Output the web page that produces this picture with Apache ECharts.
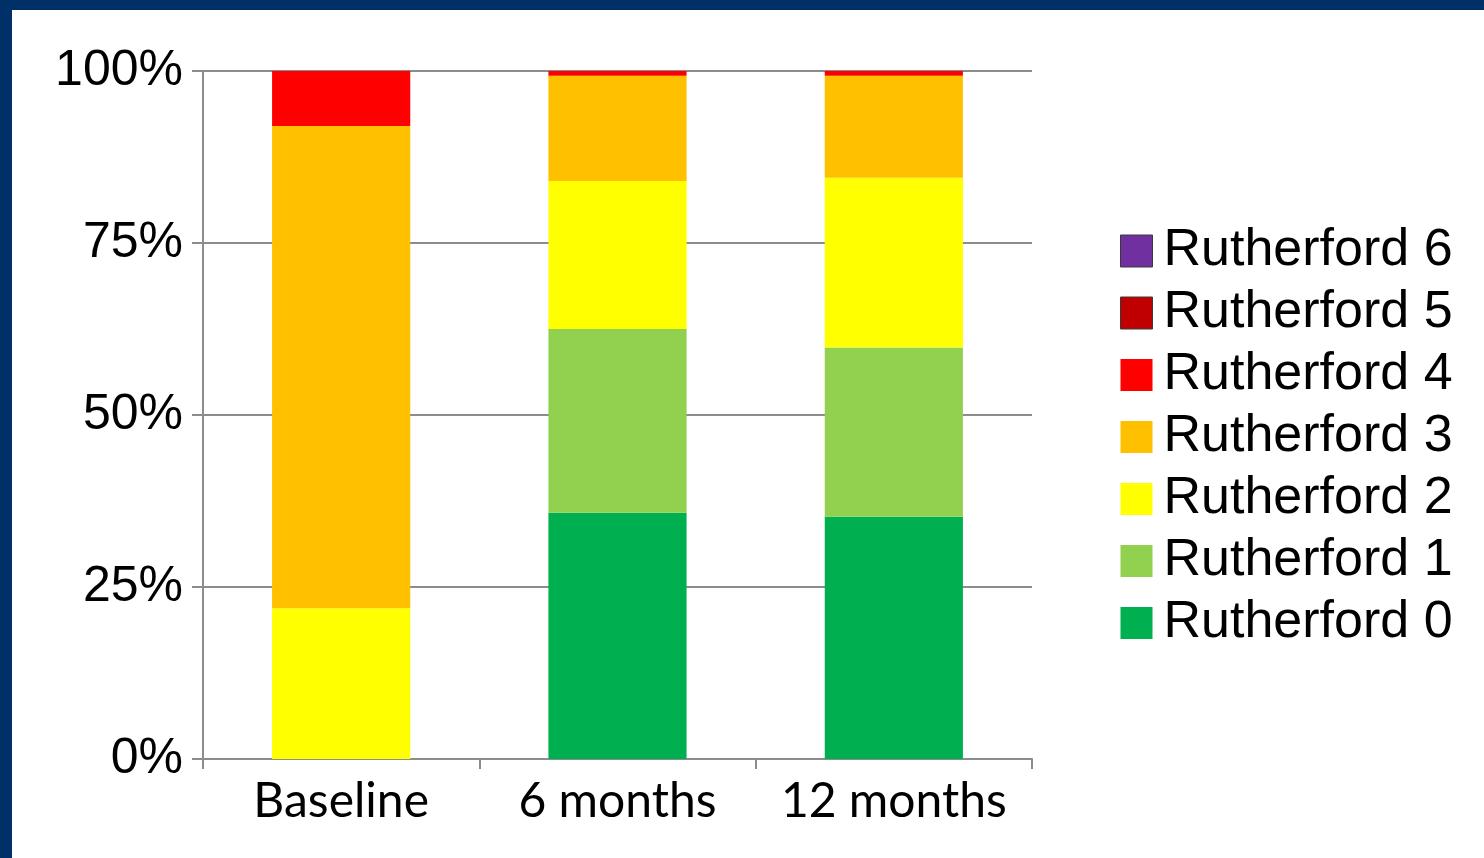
<!DOCTYPE html>
<html>
<head>
<meta charset="utf-8">
<title>Rutherford class distribution</title>
<script src="https://cdn.jsdelivr.net/npm/echarts@6/dist/echarts.min.js"></script>
<style>
  html, body { margin: 0; padding: 0; background: #ffffff; }
  #frame {
    position: absolute; left: 0; top: 0; width: 1484px; height: 858px;
    box-sizing: border-box;
    border-top: 10px solid #003067;
    border-left: 12px solid #003067;
  }
  #chart { position: absolute; left: 0; top: 0; width: 1484px; height: 858px; }
</style>
</head>
<body>
<div id="frame"></div>
<div id="chart"></div>
<script>
// Time points on the x axis
const categories = ['Baseline', '6 months', '12 months'];

// Share of patients (%) in each Rutherford class at each time point
const rutherford0 = [0, 35.8, 35.2];
const rutherford1 = [0, 26.7, 24.6];
const rutherford2 = [21.9, 21.5, 24.7];
const rutherford3 = [70.1, 15.3, 14.8];
const rutherford4 = [8.0, 0.7, 0.7];
const rutherford5 = [0, 0, 0];
const rutherford6 = [0, 0, 0];

const seriesNames = ['Rutherford 0', 'Rutherford 1', 'Rutherford 2', 'Rutherford 3',
                     'Rutherford 4', 'Rutherford 5', 'Rutherford 6'];
const seriesValues = [rutherford0, rutherford1, rutherford2, rutherford3,
                      rutherford4, rutherford5, rutherford6];
const seriesColors = ['#00b050', '#92d050', '#ffff00', '#ffc000',
                      '#ff0000', '#c00000', '#7030a0'];

const yTicks = [0, 25, 50, 75, 100];

const chart = echarts.init(document.getElementById('chart'), null, { renderer: 'canvas' });

const axisGray = '#8c8c8c';

const series = seriesNames.map((name, i) => ({
  name: name,
  type: 'bar',
  stack: 'total',
  barWidth: '50%',
  data: seriesValues[i],
  itemStyle: { color: seriesColors[i] },
  emphasis: { disabled: true }
}));

// Legend lists the highest class first; the two darkest swatches carry a thin outline
const legendData = seriesNames.slice().reverse().map((name) => {
  const idx = seriesNames.indexOf(name);
  const outlined = idx >= 5;
  return {
    name: name,
    itemStyle: outlined ? { borderColor: '#3a3a3a', borderWidth: 1 } : { borderWidth: 0 }
  };
});

chart.setOption({
  animation: false,
  backgroundColor: 'transparent',
  grid: { left: 203, top: 71, width: 829, height: 688, containLabel: false },
  xAxis: {
    type: 'category',
    data: categories,
    boundaryGap: true,
    axisLine: { show: true, lineStyle: { color: axisGray, width: 2 } },
    axisTick: { show: true, interval: 0, length: 10, alignWithLabel: false, lineStyle: { color: axisGray, width: 2 } },
    axisLabel: {
      interval: 0, color: '#000000', fontFamily: 'Lato', fontSize: 48, margin: 19
    },
    splitLine: { show: false }
  },
  yAxis: {
    type: 'value',
    min: yTicks[0],
    max: yTicks[yTicks.length - 1],
    interval: yTicks[1] - yTicks[0],
    axisLine: { show: true, lineStyle: { color: axisGray, width: 2 } },
    axisTick: { show: true, length: 11, lineStyle: { color: axisGray, width: 2 } },
    axisLabel: {
      color: '#000000', fontFamily: 'Liberation Sans', fontSize: 50, margin: 20,
      padding: [9, 0, 0, 0],
      formatter: '{value}%'
    },
    splitLine: { show: true, lineStyle: { color: axisGray, width: 2 } }
  },
  legend: {
    orient: 'vertical',
    left: 1120,
    top: 225,
    padding: 0,
    itemWidth: 32,
    itemHeight: 32,
    itemGap: 10,
    icon: 'rect',
    selectedMode: false,
    data: legendData,
    textStyle: {
      color: '#000000', fontFamily: 'Liberation Sans', fontSize: 52, lineHeight: 52,
      padding: [0, 0, 0, 6]
    }
  },
  series: series
});
</script>
</body>
</html>
